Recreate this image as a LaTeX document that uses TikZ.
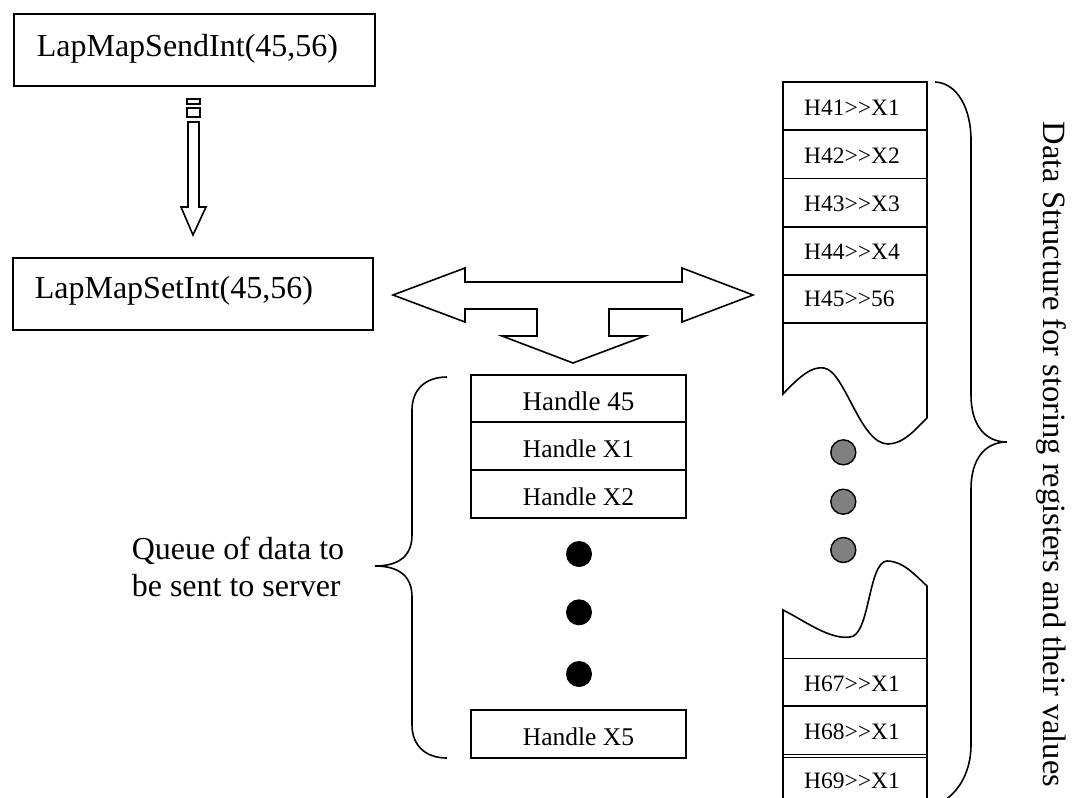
\documentclass[tikz,border=0pt]{standalone}
\usepackage{fontspec}
\setmainfont{Liberation Serif}
\begin{document}
\begin{tikzpicture}[x=1pt,y=-1pt,line width=1.6pt,line join=miter,
  box/.style={draw,inner sep=0pt,outer sep=0pt,anchor=north west},
  big/.style={font=\fontsize{32}{37}\selectfont,inner sep=0pt},
  sidetxt/.style={font=\fontsize{32.5}{37}\selectfont,inner sep=0pt},
  headtxt/.style={font=\fontsize{27}{30}\selectfont,inner sep=0pt,anchor=base},
  handletxt/.style={font=\fontsize{25.5}{29}\selectfont,inner sep=0pt,anchor=base},
  regtxt/.style={font=\fontsize{23.5}{27}\selectfont,inner sep=0pt,anchor=base west},
  blackdot/.style={fill=black},
  graydot/.style={draw=black,fill={rgb,255:red,128;green,128;blue,128},line width=1.4pt}]
\useasboundingbox (0,0) rectangle (1074,798);

% call boxes
\node[box,minimum width=361pt,minimum height=72pt] (send) at (14,14) {};
\node[big,anchor=base west] (sendlbl) at (36,56) {LapMapSendInt(45,56)};
\node[box,minimum width=360pt,minimum height=72pt] (set) at (13,258) {};
\node[big,anchor=base west] (setlbl) at (34,298) {LapMapSetInt(45,56)};

% striped block arrow between the call boxes
\draw (187,99) rectangle (200,104);
\draw (187,108) rectangle (200,117);
\draw (188,122) -- (199,122) -- (199,207) -- (206,207) -- (193,235)
      -- (181,207) -- (188,207) -- cycle;

% three-way block arrow
\draw (393,295) -- (465,268) -- (465,282) -- (682,282) -- (682,268) -- (753,295)
      -- (682,322) -- (682,309) -- (609,309) -- (609,336) -- (645,336) -- (573,363)
      -- (502,336) -- (537,336) -- (537,309) -- (465,309) -- (465,322) -- cycle;

% queue of handles
\node[box,minimum width=215pt,minimum height=47pt] (q1) at (471,375) {};
\node[box,minimum width=215pt,minimum height=48pt] (q2) at (471,422) {};
\node[box,minimum width=215pt,minimum height=48pt] (q3) at (471,470) {};
\node[box,minimum width=215pt,minimum height=48pt] (q5) at (471,710) {};
\node[headtxt] (q1lbl) at (578.5,410.7) {Handle 45};
\node[handletxt] (q2lbl) at (578.5,457.3) {Handle X1};
\node[handletxt] (q3lbl) at (578.5,505) {Handle X2};
\node[handletxt] (q5lbl) at (578.5,745) {Handle X5};
\fill[blackdot] (579,554) circle (13);
\fill[blackdot] (579,612.3) circle (13);
\fill[blackdot] (579,674) circle (13);

% brace and label of the queue
\draw (447,377) .. controls (425,377) and (412,390) .. (412,410) -- (412,535)
      .. controls (412,555) and (400,566) .. (375,566)
      .. controls (400,566) and (412,577) .. (412,597) -- (412,725)
      .. controls (412,745) and (425,758) .. (447,758);
\node[big,anchor=base west] (queue1) at (131,559.3) {Queue of data to};
\node[big,anchor=base west] (queue2) at (131,596) {be sent to server};

% register table, upper part with torn edge
\draw (783,394) -- (783,82) -- (927,82) -- (927,418)
      .. controls (915,430) and (903,444) .. (888,444)
      .. controls (860,444) and (845,371) .. (824,368)
      .. controls (812,366) and (800,376) .. (783,394) -- cycle;
\foreach \yy in {130,178.3,226.7,275,323}
  \draw (783,\yy) -- (927,\yy);
\node[regtxt] (r41) at (803.3,115) {H41>{}>X1};
\node[regtxt] (r42) at (803.3,163.3) {H42>{}>X2};
\node[regtxt] (r43) at (803.3,211) {H43>{}>X3};
\node[regtxt] (r44) at (803.3,259.3) {H44>{}>X4};
\node[regtxt] (r45) at (803.3,306.7) {H45>{}>56};

% gap in the register table
\filldraw[graydot] (843.3,452.3) circle (12.5);
\filldraw[graydot] (843.3,501.7) circle (12.5);
\filldraw[graydot] (843.3,550) circle (12.5);

% register table, lower part with torn edge
\draw (783,798) -- (783,610)
      .. controls (805,621) and (830,640) .. (850,637)
      .. controls (870,636) and (868,562) .. (887,561)
      .. controls (903,561) and (915,575) .. (927,586) -- (927,798);
\foreach \yy in {658.3,705.7,754.3,757.3}
  \draw (783,\yy) -- (927,\yy);
\node[regtxt] (r67) at (803.3,691) {H67>{}>X1};
\node[regtxt] (r68) at (803.3,739) {H68>{}>X1};
\node[regtxt] (r69) at (803.3,788.3) {H69>{}>X1};

% brace and label of the register table
\draw (935,82) .. controls (957,83) and (971,108) .. (971,140) -- (971,395)
      .. controls (971,425) and (985,442) .. (1007,442)
      .. controls (985,442) and (971,459) .. (971,489) -- (971,745)
      .. controls (971,770) and (960,790) .. (945,800);
\node[sidetxt,anchor=base,rotate=-90] (dslbl) at (1043,454.5)
  {Data Structure for storing registers and their values};
\end{tikzpicture}
\end{document}
